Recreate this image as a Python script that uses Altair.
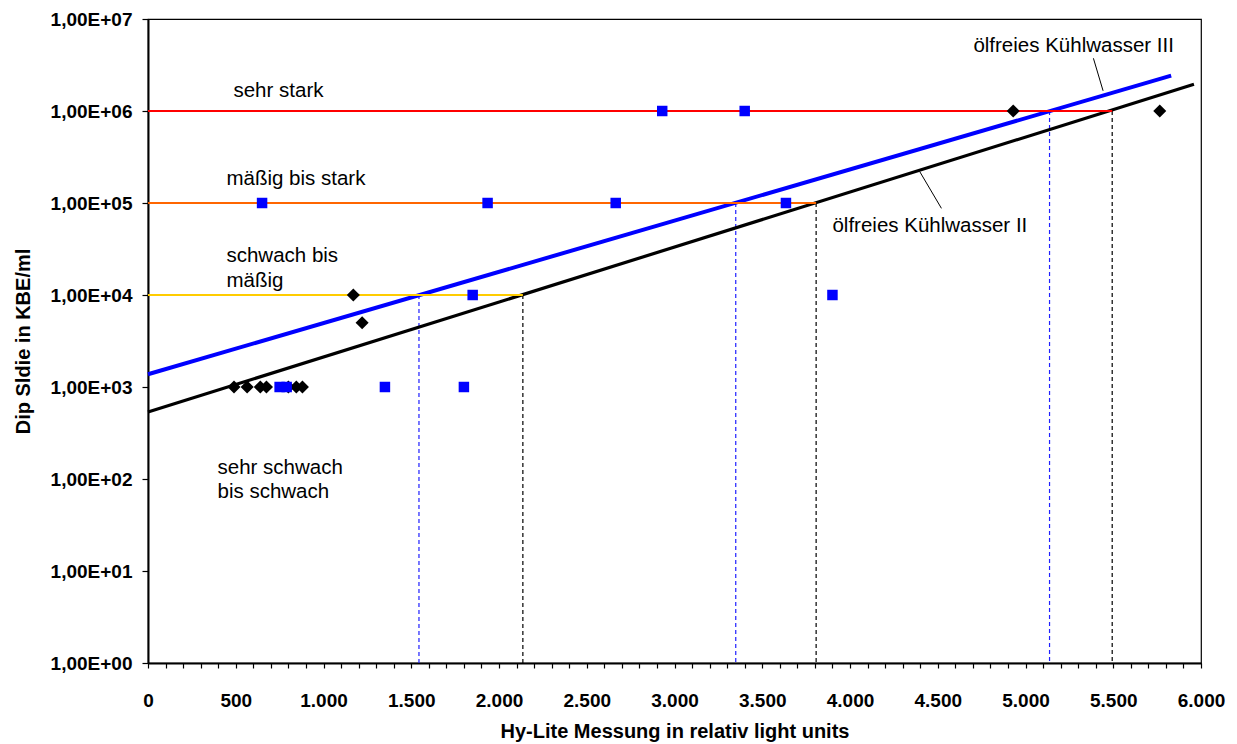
import altair as alt
import pandas as pd

# Messwerte ölfreies Kühlwasser II (schwarze Rauten)
rlu_II = [490, 565, 640, 675, 800, 845, 880, 1170, 1220, 4930, 5765]
kbe_II = [1e3, 1e3, 1e3, 1e3, 1e3, 1e3, 1e3, 1e4, 5e3, 1e6, 1e6]

# Messwerte ölfreies Kühlwasser III (blaue Quadrate)
rlu_III = [650, 750, 790, 1350, 1800, 1850, 1935, 2665, 2930, 3400, 3635, 3900]
kbe_III = [1e5, 1e3, 1e3, 1e3, 1e3, 1e4, 1e5, 1e5, 1e6, 1e6, 1e5, 1e4]

# Exponentielle Trendlinien, Anfangs- und Endpunkt (auf Log-Achse gerade)
trend_II_rlu = [0, 5960]
trend_II_kbe = [535, 1.95e6]
trend_III_rlu = [0, 5830]
trend_III_kbe = [1375, 2.42e6]

# Klassengrenzen und Schnittpunkte mit den Trendlinien
stufen_kbe = [1e6, 1e5, 1e4]
stufen_farbe = ["#FF0000", "#FF6600", "#FFCC00"]
schnitt_II_rlu = [5494, 3807, 2136]
schnitt_III_rlu = [5137, 3349, 1544]

# Beschriftungen im Diagramm
text_inhalt = ["sehr stark", "mäßig bis stark", "schwach bis", "mäßig",
               "sehr schwach", "bis schwach",
               "ölfreies Kühlwasser III", "ölfreies Kühlwasser II"]
text_rlu = [487, 447, 447, 447, 396, 396, 4703, 3900]
text_kbe = [1.42e6, 1.57e5, 2.3e4, 1.23e4, 113, 62, 4.35e6, 4.8e4]

# Hinweislinien zu den Trendlinien
zeiger_rlu = [5387, 4397]
zeiger_kbe = [3.74e6, 2.2e5]
zeiger_rlu2 = [5442, 4521]
zeiger_kbe2 = [1.66e6, 8.75e4]

FONT = "Liberation Sans"

x_scale = alt.Scale(domain=[0, 6000], nice=False, zero=False)
y_scale = alt.Scale(type="log", domain=[1, 1e7], nice=False)

x_axis = alt.Axis(
    values=list(range(0, 6001, 100)),
    labelExpr="datum.value % 500 === 0 ? replace(format(datum.value, ','), ',', '.') : ''",
    labelOverlap=False,
    labelFlush=False,
    tickSize=5,
    labelPadding=23,
    titlePadding=11,
    grid=False,
)
y_axis = alt.Axis(
    values=[1, 10, 100, 1e3, 1e4, 1e5, 1e6, 1e7],
    labelExpr="'1,00E+0' + format(log(datum.value) / LN10, '.0f')",
    labelFlush=False,
    tickSize=6,
    labelPadding=10,
    titlePadding=17,
    grid=False,
)

X_TITLE = "Hy-Lite Messung in relativ light units"
Y_TITLE = "Dip Sldie in KBE/ml"


def xenc(field):
    return alt.X(f"{field}:Q", scale=x_scale, axis=x_axis, title=X_TITLE)


def yenc(field):
    return alt.Y(f"{field}:Q", scale=y_scale, axis=y_axis, title=Y_TITLE)


stufen = pd.DataFrame({
    "start": [0] * len(stufen_kbe),
    "ende": schnitt_II_rlu,
    "kbe": stufen_kbe,
    "farbe": stufen_farbe,
})

senk_II = pd.DataFrame({"rlu": schnitt_II_rlu, "kbe": stufen_kbe, "boden": [1] * 3})
senk_III = pd.DataFrame({"rlu": schnitt_III_rlu, "kbe": stufen_kbe, "boden": [1] * 3})

trend = pd.DataFrame({
    "rlu": trend_II_rlu + trend_III_rlu,
    "kbe": trend_II_kbe + trend_III_kbe,
    "reihe": ["II", "II", "III", "III"],
})

punkte_II = pd.DataFrame({"rlu": rlu_II, "kbe": kbe_II})
punkte_III = pd.DataFrame({"rlu": rlu_III, "kbe": kbe_III})

texte = pd.DataFrame({"t": text_inhalt, "rlu": text_rlu, "kbe": text_kbe})
zeiger = pd.DataFrame({"rlu": zeiger_rlu, "kbe": zeiger_kbe,
                       "rlu2": zeiger_rlu2, "kbe2": zeiger_kbe2})

senkrecht_III = alt.Chart(senk_III).mark_rule(
    color="#1F1FFF", strokeWidth=1.2, strokeDash=[4, 3]
).encode(x=xenc("rlu"), y=yenc("kbe"), y2="boden:Q")

senkrecht_II = alt.Chart(senk_II).mark_rule(
    color="#000000", strokeWidth=1.2, strokeDash=[4, 3]
).encode(x=xenc("rlu"), y=yenc("kbe"), y2="boden:Q")

waagrecht = alt.Chart(stufen).mark_rule(strokeWidth=2.2).encode(
    x=xenc("start"), x2="ende:Q", y=yenc("kbe"),
    color=alt.Color("farbe:N", scale=None),
)

trend_II = alt.Chart(trend[trend.reihe == "II"]).mark_line(
    color="#000000", strokeWidth=3.2
).encode(x=xenc("rlu"), y=yenc("kbe"))

trend_III = alt.Chart(trend[trend.reihe == "III"]).mark_line(
    color="#0000FF", strokeWidth=4
).encode(x=xenc("rlu"), y=yenc("kbe"))

hinweis = alt.Chart(zeiger).mark_rule(color="#000000", strokeWidth=1).encode(
    x=xenc("rlu"), y=yenc("kbe"), x2="rlu2:Q", y2="kbe2:Q"
)

rauten = alt.Chart(punkte_II).mark_point(
    shape="diamond", filled=True, color="#000000", size=170, opacity=1
).encode(x=xenc("rlu"), y=yenc("kbe"))

quadrate = alt.Chart(punkte_III).mark_point(
    shape="square", filled=True, color="#0000FF", size=110, opacity=1
).encode(x=xenc("rlu"), y=yenc("kbe"))

beschriftung = alt.Chart(texte).mark_text(
    align="left", baseline="alphabetic", font=FONT, fontSize=20.5, color="#000000"
).encode(x=xenc("rlu"), y=yenc("kbe"), text="t:N")

chart = alt.layer(
    senkrecht_III, senkrecht_II, trend_III, trend_II, waagrecht,
    hinweis, rauten, quadrate, beschriftung,
).properties(
    width=1053,
    height=644,
    background="#ffffff",
    autosize=alt.AutoSizeParams(type="none"),
    padding={"left": 148, "top": 19, "right": 36, "bottom": 81},
).configure_view(
    stroke="#000000", strokeWidth=1.2
).configure_axis(
    labelFont=FONT, labelFontWeight="bold", labelFontSize=19, labelColor="#000000",
    titleFont=FONT, titleFontWeight="bold", titleFontSize=20, titleColor="#000000",
    domainColor="#000000", domainWidth=2, tickColor="#000000", tickWidth=1.2,
)

chart.save("out.html", embed_options={"renderer": "svg", "actions": False})
